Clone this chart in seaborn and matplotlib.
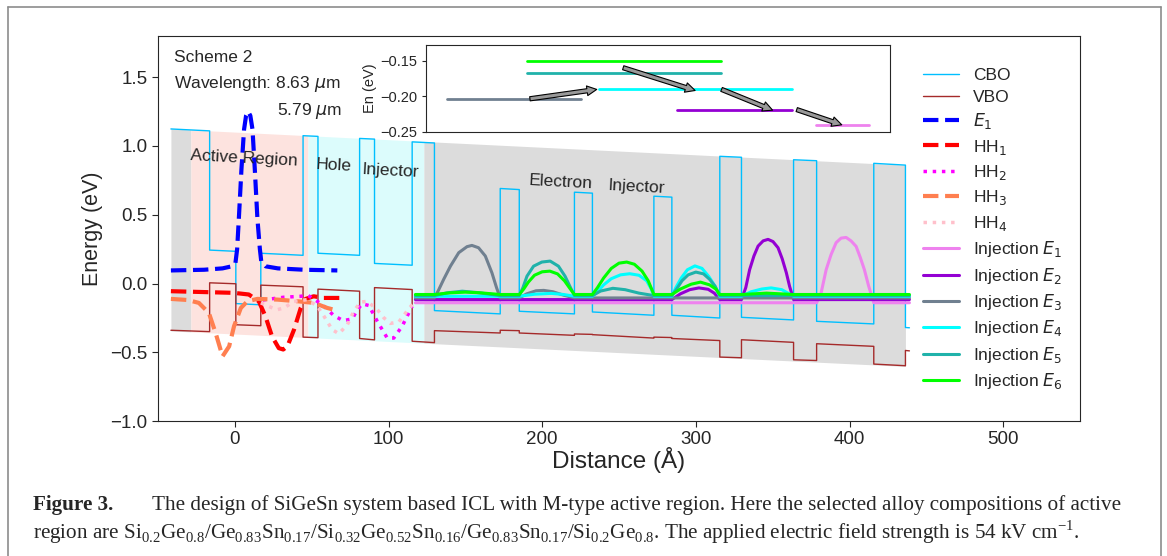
import matplotlib
matplotlib.use("Agg")
import matplotlib.pyplot as plt
import seaborn as sns
from matplotlib.lines import Line2D

# layer boundaries (Angstrom) and band edge at start / end of every layer
edges = [-41.6, -16.4, 0.65, 16.9, 44.4, 54.1, 81.2, 90.9, 115.4, 129.9, 172.7, 185.1,
         221.0, 232.7, 272.7, 284.4, 315.6, 329.7, 363.6, 378.6, 415.8, 436.4, 439.0]
cbo_start = [1.124, 0.243, -0.146, 0.22, 1.075, 0.22, 1.055, 0.146, 1.03, -0.197, 0.691,
             -0.202, 0.664, -0.207, 0.635, -0.231, 0.925, -0.246, 0.90, -0.275, 0.874, -0.32]
cbo_end = [1.110, 0.234, -0.155, 0.205, 1.070, 0.205, 1.050, 0.133, 1.022, -0.221, 0.683,
           -0.221, 0.657, -0.231, 0.628, -0.251, 0.918, -0.265, 0.893, -0.294, 0.861, -0.322]
vbo_start = [-0.34, 0.005, -0.30, -0.012, -0.39, -0.041, -0.40, -0.03, -0.42, -0.343, -0.34,
             -0.36, -0.367, -0.372, -0.39, -0.40, -0.535, -0.409, -0.555, -0.438, -0.586, -0.487]
vbo_end = [-0.35, -0.002, -0.307, -0.024, -0.394, -0.056, -0.41, -0.044, -0.43, -0.36, -0.343,
           -0.377, -0.37, -0.397, -0.393, -0.415, -0.54, -0.428, -0.56, -0.457, -0.598, -0.49]

# shaded regions (gray / active / hole injector / electron injector)
shade_x = [-41.6, -28.6, 47.6, 123.0, 436.4]
shade_top = [1.124, 1.117, 1.075, 1.033, 0.861]
shade_bot = [-0.345, -0.352, -0.393, -0.434, -0.603]
shade_colors = ["#dcdcdc", "#fde3df", "#dcfcfc", "#dcdcdc"]

# active region states
e1_x = [-41.6, -20, -8, -2, 0.4, 1.5, 2.6, 4.3, 6.0, 7.3, 8.7, 10.1, 11.5, 13.0, 14.7, 16.3, 17.2, 20, 28, 45, 66.7]
e1_y = [0.095, 0.10, 0.11, 0.125, 0.15, 0.25, 0.47, 0.83, 1.12, 1.22, 1.25, 1.22, 1.12, 0.83, 0.47, 0.25, 0.16, 0.125, 0.11, 0.10, 0.095]
hh1_x = [-41.6, -0.6, 9.1, 15.6, 19.9, 24.2, 28.6, 31.5, 34.2, 38.5, 42.9, 46.1, 51.3, 57.8, 68.8]
hh1_y = [-0.056, -0.068, -0.08, -0.129, -0.238, -0.385, -0.47, -0.48, -0.457, -0.336, -0.178, -0.112, -0.093, -0.105, -0.105]
hh2_x = [18.2, 31.8, 42.9, 47.4, 53.7, 56.9, 64.5, 70.5, 76.4, 79.7, 82.9, 87.2, 92.7, 99.2, 103.4, 108.9, 113.2, 115.4]
hh2_y = [-0.12, -0.10, -0.093, -0.085, -0.13, -0.153, -0.234, -0.27, -0.258, -0.19, -0.148, -0.16, -0.275, -0.397, -0.397, -0.31, -0.214, -0.165]
hh3_x = [-41.6, -30.7, -23.4, -16.9, -12.5, -8.0, -3.7, -0.5, 3.9, 8.2, 14.7, 27.7, 40.7, 51.5, 60.2, 66.7]
hh3_y = [-0.112, -0.12, -0.141, -0.214, -0.36, -0.53, -0.457, -0.31, -0.178, -0.129, -0.112, -0.117, -0.129, -0.141, -0.178, -0.197]
hh4_x = [16.9, 24.5, 27.7, 32.0, 38.5, 47.2, 53.7, 58.0, 63.4, 67.7, 73.2, 77.5, 81.8, 86.2, 92.7, 97.0, 101.3, 106.7, 112.1, 116.4]
hh4_y = [-0.141, -0.178, -0.19, -0.178, -0.13, -0.117, -0.165, -0.238, -0.336, -0.365, -0.30, -0.20, -0.135, -0.13, -0.19, -0.25, -0.29, -0.28, -0.20, -0.14]

# electron injector states
inj1_x = [117.5, 378.6, 381.5, 384.8, 388.0, 391.3, 394.5, 397.8, 401.0, 404.3, 407.0, 409.7, 412.5, 415.8, 439.0]
inj1_y = [-0.14, -0.14, -0.07, 0.10, 0.21, 0.297, 0.33, 0.335, 0.31, 0.27, 0.19, 0.10, -0.02, -0.14, -0.14]
inj2_x = [117.5, 284.4, 290, 296, 302, 308, 312, 315.6, 329.7, 332.5, 335.0, 337.8, 340.5, 343.8, 347.0,
          350.2, 353.5, 356.2, 358.9, 361.0, 363.6, 439.0]
inj2_y = [-0.117, -0.117, -0.075, -0.045, -0.032, -0.042, -0.07, -0.117, -0.117, -0.03, 0.10, 0.20, 0.272,
          0.31, 0.321, 0.305, 0.26, 0.18, 0.078, -0.02, -0.117, -0.117]
inj3_x = [117.5, 129.9, 132.5, 135.9, 140.3, 145.7, 151.1, 154.3, 158.6, 163.0, 167.3, 170.3, 172.7,
          185.1, 190, 196, 201, 207, 214, 221, 439.0]
inj3_y = [-0.105, -0.105, -0.05, 0.03, 0.126, 0.224, 0.268, 0.277, 0.26, 0.20, 0.078, -0.03, -0.105,
          -0.105, -0.075, -0.053, -0.05, -0.06, -0.085, -0.105, -0.105]
inj4_x = [117.5, 185.1, 195, 206, 214, 221, 232.7, 236, 240, 245, 251, 257, 263, 268, 271, 272.7,
          284.4, 287, 290.5, 294.5, 299.4, 304, 308.5, 312.5, 315.6, 329.7, 336, 343, 349, 356, 363.6, 439.0]
inj4_y = [-0.093, -0.093, -0.078, -0.072, -0.08, -0.093, -0.093, -0.06, -0.01, 0.035, 0.063, 0.071, 0.06,
          0.02, -0.04, -0.093, -0.093, -0.03, 0.04, 0.10, 0.128, 0.11, 0.05, -0.02, -0.093, -0.093, -0.06,
          -0.04, -0.032, -0.045, -0.093, -0.093]
inj5_x = [117.5, 129.9, 138, 148, 158, 172.7, 185.1, 187.5, 190.1, 194.4, 199.8, 205.2, 210.6, 214.9,
          218, 221, 232.7, 238, 246, 254, 263, 272.7, 284.4, 287.5, 291, 295, 300, 305, 309, 312.5, 315.6, 439.0]
inj5_y = [-0.088, -0.088, -0.068, -0.056, -0.066, -0.088, -0.088, -0.03, 0.053, 0.126, 0.156, 0.163,
          0.126, 0.053, -0.02, -0.088, -0.088, -0.055, -0.035, -0.045, -0.07, -0.088, -0.088, -0.04,
          0.02, 0.063, 0.083, 0.07, 0.03, -0.02, -0.088, -0.088]
inj6_x = [117.5, 129.9, 140, 150, 160, 172.7, 185.1, 188, 191, 195, 200, 205, 210, 214.5, 218, 221,
          232.7, 236, 240, 245, 250, 255, 260, 265, 269, 272.7, 284.4, 290, 297, 303, 309, 313, 315.6,
          329.7, 346, 363.6, 439.0]
inj6_y = [-0.08, -0.08, -0.068, -0.063, -0.068, -0.08, -0.08, -0.04, 0.01, 0.06, 0.085, 0.09, 0.07,
          0.02, -0.035, -0.08, -0.08, -0.03, 0.04, 0.11, 0.148, 0.156, 0.14, 0.09, 0.02, -0.08, -0.08,
          -0.04, -0.005, 0.01, -0.01, -0.04, -0.08, -0.08, -0.07, -0.08, -0.08]

# inset: injector levels (x in arbitrary units 0-100) and tunnelling arrows
lvl_names = ["E3", "E6", "E5", "E4", "E2", "E1"]
lvl_x0 = [4.5, 21.8, 21.8, 37.3, 54.0, 84.0]
lvl_x1 = [33.4, 63.5, 63.5, 78.8, 78.8, 95.4]
lvl_en = [-0.204, -0.151, -0.168, -0.190, -0.219, -0.240]
arrow_start = [(22.4, -0.2037), (42.5, -0.160), (63.7, -0.1905), (79.9, -0.2189)]
arrow_end = [(36.8, -0.1905), (58.0, -0.192), (74.7, -0.2197), (89.6, -0.2403)]

inj_colors = {"E1": "violet", "E2": "darkviolet", "E3": "slategray",
              "E4": "cyan", "E5": "lightseagreen", "E6": "lime"}


def band_line(start, end):
    xs, ys = [], []
    for i in range(len(start)):
        xs += [edges[i], edges[i + 1]]
        ys += [start[i], end[i]]
    return xs, ys


sns.set_style("ticks")
plt.rcParams['font.family'] = ['Liberation Sans', 'DejaVu Sans']
plt.rcParams['mathtext.fontset'] = 'dejavusans'

fig = plt.figure(figsize=(11.67, 5.56), dpi=100)
ax = fig.add_axes([158 / 1167, 1 - 421 / 556, 922 / 1167, 385 / 556])

for i in range(len(shade_colors)):
    ax.fill_between(shade_x[i:i + 2], shade_bot[i:i + 2], shade_top[i:i + 2],
                    color=shade_colors[i], lw=0, zorder=0)

kw = dict(sort=False, estimator=None, ax=ax, legend=False)
cx, cy = band_line(cbo_start, cbo_end)
sns.lineplot(x=cx, y=cy, color="deepskyblue", lw=1.0, label="CBO", **kw)
vx, vy = band_line(vbo_start, vbo_end)
sns.lineplot(x=vx, y=vy, color="brown", lw=1.0, label="VBO", **kw)

sns.lineplot(x=e1_x, y=e1_y, color="blue", lw=3, ls="--", label="$E_1$", **kw)
sns.lineplot(x=hh1_x, y=hh1_y, color="red", lw=3, ls="--", label="HH$_1$", **kw)
sns.lineplot(x=hh2_x, y=hh2_y, color="magenta", lw=2.5, ls=":", label="HH$_2$", **kw)
sns.lineplot(x=hh3_x, y=hh3_y, color="coral", lw=3, ls="--", label="HH$_3$", **kw)
sns.lineplot(x=hh4_x, y=hh4_y, color="pink", lw=2.5, ls=":", label="HH$_4$", **kw)

inj = [(inj1_x, inj1_y), (inj2_x, inj2_y), (inj3_x, inj3_y),
       (inj4_x, inj4_y), (inj5_x, inj5_y), (inj6_x, inj6_y)]
for k, (xs, ys) in enumerate(inj):
    sns.lineplot(x=xs, y=ys, color=inj_colors["E%d" % (k + 1)], lw=2.2,
                 label="Injection $E_%d$" % (k + 1), **kw)

ax.set_xlim(-50, 550)
ax.set_ylim(-1.0, 1.8)
ax.set_xticks([0, 100, 200, 300, 400, 500])
ax.set_yticks([-1.0, -0.5, 0.0, 0.5, 1.0, 1.5])
ax.tick_params(labelsize=13.5, length=4)
ax.set_xlabel("Distance (Å)", fontsize=17.5, labelpad=-1)
ax.set_ylabel("Energy (eV)", fontsize=15.5, labelpad=5)

tkw = dict(fontsize=12.5, va="center", ha="left")
ax.text(-39.6, 1.642, "Scheme 2", **tkw)
ax.text(-39.6, 1.453, r"Wavelength: 8.63 $\mu$m", **tkw)
ax.text(27.7, 1.258, r"5.79 $\mu$m", **tkw)
rkw = dict(fontsize=12.5, va="center", ha="left", rotation=-3, rotation_mode="anchor")
ax.text(-29.2, 0.934, "Active Region", **rkw)
ax.text(52.6, 0.869, "Hole", **rkw)
ax.text(82.5, 0.832, "Injector", **rkw)
ax.text(191.1, 0.752, "Electron", **rkw)
ax.text(242.6, 0.715, "Injector", **rkw)

ax.legend(loc="upper left", bbox_to_anchor=(0.8297, 0.917), frameon=False, fontsize=12.5,
          borderpad=0, borderaxespad=0, labelspacing=0.37, handlelength=2.1, handletextpad=0.8)

# inset
axi = fig.add_axes([426 / 1167, 1 - 131.7 / 556, 464 / 1167, 86.7 / 556])
for n, x0, x1, en in zip(lvl_names, lvl_x0, lvl_x1, lvl_en):
    sns.lineplot(x=[x0, x1], y=[en, en], color=inj_colors[n], lw=2, ax=axi, legend=False)
for s, e in zip(arrow_start, arrow_end):
    axi.annotate("", xy=e, xytext=s,
                 arrowprops=dict(arrowstyle="simple,head_length=0.7,head_width=0.7,tail_width=0.3",
                                 mutation_scale=10, fc="#999999", ec="black", lw=0.8,
                                 shrinkA=0, shrinkB=0))
axi.set_xlim(0, 100)
axi.set_ylim(-0.25, -0.128)
axi.set_xticks([])
axi.set_yticks([-0.25, -0.20, -0.15])
axi.set_yticklabels(["\u22120.25", "\u22120.20", "\u22120.15"])
axi.tick_params(labelsize=10.5, length=3)
axi.set_ylabel("En (eV)", fontsize=10.5, labelpad=2)

# page frame and caption
fkw = dict(color="#8c8c8c", lw=1.2, transform=fig.transFigure)
fig.add_artist(Line2D([8 / 1167, 8 / 1167], [0, 1 - 7 / 556], **fkw))
fig.add_artist(Line2D([8 / 1167, 1161 / 1167], [1 - 7 / 556, 1 - 7 / 556], **fkw))
fig.add_artist(Line2D([1161 / 1167, 1161 / 1167], [0, 1 - 7 / 556], **fkw))

ckw = dict(fontsize=15.2, family="Liberation Serif", va="center", ha="left")
fig.text(33 / 1167, 1 - 505 / 556, "Figure 3.", fontweight="bold", **ckw)
fig.text(152 / 1167, 1 - 505 / 556,
         "The design of SiGeSn system based ICL with M-type active region. Here the selected "
         "alloy compositions of active", **ckw)
fig.text(33 / 1167, 1 - 532 / 556,
         r"region are Si$_{\mathregular{0.2}}$Ge$_{\mathregular{0.8}}$/Ge$_{\mathregular{0.83}}$"
         r"Sn$_{\mathregular{0.17}}$/Si$_{\mathregular{0.32}}$Ge$_{\mathregular{0.52}}$"
         r"Sn$_{\mathregular{0.16}}$/Ge$_{\mathregular{0.83}}$Sn$_{\mathregular{0.17}}$/"
         r"Si$_{\mathregular{0.2}}$Ge$_{\mathregular{0.8}}$. The applied electric field strength "
         r"is 54 kV cm$^{\mathregular{-1}}$.", **ckw)

fig.savefig("out.png", dpi=100)
